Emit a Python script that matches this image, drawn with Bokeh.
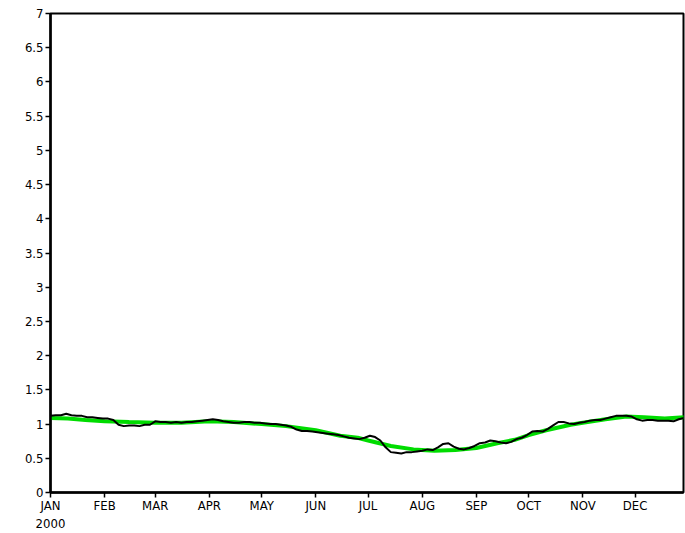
from bokeh.plotting import figure
from bokeh.models import FixedTicker, Range1d
from bokeh.embed import file_html
from bokeh.resources import INLINE
import numpy as np

# ---- data ----
month_labels = ["JAN\n2000", "FEB", "MAR", "APR", "MAY", "JUN",
                "JUL", "AUG", "SEP", "OCT", "NOV", "DEC"]
month_start_day = [0, 31, 60, 91, 121, 152, 182, 213, 244, 274, 305, 335]

y_ticks = [0, 0.5, 1, 1.5, 2, 2.5, 3, 3.5, 4, 4.5, 5, 5.5, 6, 6.5, 7]
y_tick_labels = ["0", "0.5", "1", "1.5", "2", "2.5", "3", "3.5", "4",
                 "4.5", "5", "5.5", "6", "6.5", "7"]

# black series: one value every 3 days from 1 Jan 2000
black_step_days = 3
black_vals = [
    1.12, 1.13, 1.13, 1.15, 1.13, 1.12, 1.12, 1.10, 1.10, 1.09,
    1.08, 1.08, 1.06, 0.99, 0.97, 0.98, 0.98, 0.97, 0.99, 0.99,
    1.04, 1.03, 1.03, 1.02, 1.03, 1.02, 1.03, 1.03, 1.04, 1.05,
    1.06, 1.07, 1.06, 1.04, 1.03, 1.02, 1.02, 1.03, 1.03, 1.02,
    1.02, 1.01, 1.00, 1.00, 0.99, 0.98, 0.96, 0.92, 0.90, 0.90,
    0.89, 0.88, 0.87, 0.86, 0.85, 0.84, 0.82, 0.80, 0.79, 0.78,
    0.80, 0.83, 0.81, 0.76, 0.66, 0.59, 0.58, 0.57, 0.59, 0.59,
    0.60, 0.61, 0.63, 0.62, 0.66, 0.71, 0.72, 0.67, 0.64, 0.63,
    0.65, 0.68, 0.72, 0.73, 0.76, 0.75, 0.73, 0.72, 0.74, 0.78,
    0.80, 0.84, 0.89, 0.90, 0.89, 0.93, 0.98, 1.03, 1.03, 1.01,
    1.00, 1.02, 1.03, 1.05, 1.06, 1.06, 1.08, 1.10, 1.12, 1.12,
    1.12, 1.11, 1.07, 1.05, 1.06, 1.06, 1.05, 1.05, 1.05, 1.04,
    1.07, 1.09,
]

# green (smooth) series
green_days = [0, 10, 20, 31, 45, 60, 75, 91, 105, 121, 135, 152, 166, 176,
              182, 195, 208, 220, 232, 244, 256, 266, 274, 284, 298, 305,
              318, 330, 340, 352, 363]
green_vals = [1.09, 1.08, 1.06, 1.04, 1.03, 1.02, 1.02, 1.04, 1.03, 1.00,
              0.97, 0.91, 0.83, 0.80, 0.76, 0.68, 0.63, 0.61, 0.62, 0.65,
              0.72, 0.77, 0.84, 0.91, 0.99, 1.02, 1.07, 1.11, 1.10, 1.08,
              1.10]

black_days = np.arange(len(black_vals)) * black_step_days

FONT = "DejaVu Sans Condensed, Liberation Sans Narrow, DejaVu Sans, sans-serif"

p = figure(width=685, height=533, output_backend="svg", toolbar_location=None,
           x_range=Range1d(0, 362.7), y_range=Range1d(0, 7),
           min_border_left=50, min_border_right=2, min_border_top=13,
           min_border_bottom=40)
p.background_fill_color = "white"
p.border_fill_color = "white"
p.grid.visible = False
p.outline_line_color = "black"
p.outline_line_width = 2

p.line(green_days, green_vals, line_color="#00dc00", line_width=4)
p.line(black_days, black_vals, line_color="black", line_width=2)

for ax in (p.xaxis[0], p.yaxis[0]):
    ax.axis_line_width = 2.5
    ax.axis_line_color = "black"
    ax.major_tick_line_width = 1.5
    ax.major_tick_line_color = "black"
    ax.major_tick_out = 5
    ax.major_tick_in = 0
    ax.minor_tick_line_color = None
    ax.major_label_text_font = FONT
    ax.major_label_text_font_size = "13px"
    ax.major_label_text_color = "black"

p.xaxis[0].ticker = FixedTicker(ticks=month_start_day)
p.xaxis[0].major_label_overrides = {d: l for d, l in zip(month_start_day, month_labels)}
p.xaxis[0].major_label_standoff = 0

p.yaxis[0].ticker = FixedTicker(ticks=y_ticks)
p.yaxis[0].major_label_overrides = {t: l for t, l in zip(y_ticks, y_tick_labels)}
p.yaxis[0].major_label_standoff = 2

open("out.html", "w").write(file_html(p, INLINE))
